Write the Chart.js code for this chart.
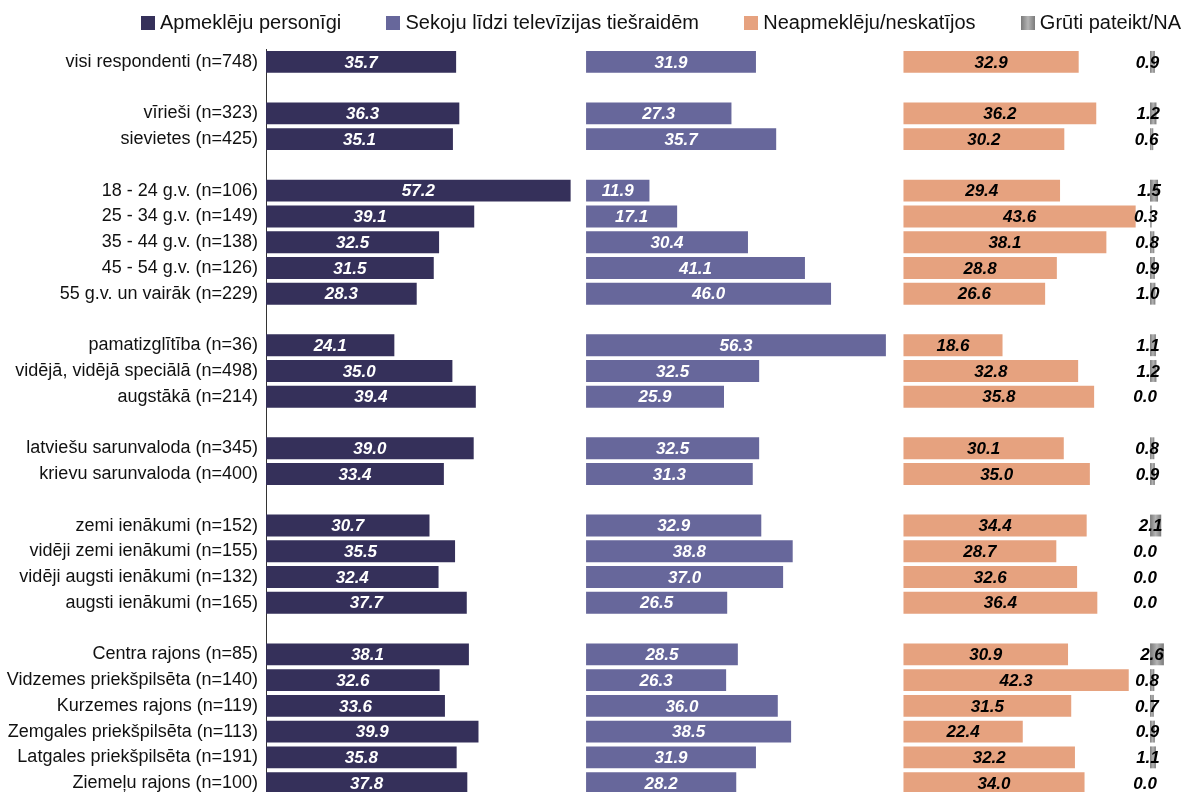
<!DOCTYPE html>
<html>
<head>
<meta charset="utf-8">
<script src="https://cdn.jsdelivr.net/npm/chart.js@4.4.0/dist/chart.umd.min.js"></script>
<style>
  html, body { margin: 0; padding: 0; background: #fff; overflow: hidden; }
  #c { position: absolute; left: 0; top: 0; }
  #legend { position: absolute; left: 141px; width: 1040px; top: 11px; display: flex; justify-content: space-between; }
  .leg { font-family: "Liberation Sans", Arial, sans-serif; font-size: 20px; color: #111; white-space: nowrap; line-height: 22px; }
  .leg i { display: inline-block; width: 14px; height: 14px; margin-right: 5px; vertical-align: -1px; }
</style>
</head>
<body>
<canvas id="c" width="1182" height="797"></canvas>
<div id="legend"></div>
<script>
const categories = ['visi respondenti (n=748)', '', 'vīrieši (n=323)', 'sievietes (n=425)', '',
  '18 - 24 g.v. (n=106)', '25 - 34 g.v. (n=149)', '35 - 44 g.v. (n=138)', '45 - 54 g.v. (n=126)', '55 g.v. un vairāk (n=229)', '',
  'pamatizglītība (n=36)', 'vidējā, vidējā speciālā (n=498)', 'augstākā (n=214)', '',
  'latviešu sarunvaloda (n=345)', 'krievu sarunvaloda (n=400)', '',
  'zemi ienākumi (n=152)', 'vidēji zemi ienākumi (n=155)', 'vidēji augsti ienākumi (n=132)', 'augsti ienākumi (n=165)', '',
  'Centra rajons (n=85)', 'Vidzemes priekšpilsēta (n=140)', 'Kurzemes rajons (n=119)', 'Zemgales priekšpilsēta (n=113)', 'Latgales priekšpilsēta (n=191)', 'Ziemeļu rajons (n=100)'];

const seriesNames = ['Apmeklēju personīgi', 'Sekoju līdzi televīzijas tiešraidēm', 'Neapmeklēju/neskatījos', 'Grūti pateikt/NA'];

const apmekleju = [35.7, null, 36.3, 35.1, null, 57.2, 39.1, 32.5, 31.5, 28.3, null, 24.1, 35.0, 39.4, null, 39.0, 33.4, null, 30.7, 35.5, 32.4, 37.7, null, 38.1, 32.6, 33.6, 39.9, 35.8, 37.8];
const sekoju    = [31.9, null, 27.3, 35.7, null, 11.9, 17.1, 30.4, 41.1, 46.0, null, 56.3, 32.5, 25.9, null, 32.5, 31.3, null, 32.9, 38.8, 37.0, 26.5, null, 28.5, 26.3, 36.0, 38.5, 31.9, 28.2];
const neapmekleju = [32.9, null, 36.2, 30.2, null, 29.4, 43.6, 38.1, 28.8, 26.6, null, 18.6, 32.8, 35.8, null, 30.1, 35.0, null, 34.4, 28.7, 32.6, 36.4, null, 30.9, 42.3, 31.5, 22.4, 32.2, 34.0];
const gruti     = [0.9, null, 1.2, 0.6, null, 1.5, 0.3, 0.8, 0.9, 1.0, null, 1.1, 1.2, 0.0, null, 0.8, 0.9, null, 2.1, 0.0, 0.0, 0.0, null, 2.6, 0.8, 0.7, 0.9, 1.1, 0.0];

// layout constants (panel starts on the shared value axis)
const panelStart = [0, 60.1, 119.7, 166];
const colors = ['#35305a', '#67679b', '#e6a27f', '#8e8e8e'];
const labelColors = ['#ffffff', '#ffffff', '#000000', '#000000'];
const seriesValues = [apmekleju, sekoju, neapmekleju, gruti];

function greyGradient(ctx) {
  const chart = ctx.chart;
  if (!chart.chartArea || !ctx.raw) return colors[3];
  const xs = chart.scales.x;
  const x0 = xs.getPixelForValue(ctx.raw[0]), x1 = xs.getPixelForValue(ctx.raw[1]);
  if (x1 - x0 < 1) return colors[3];
  const g = chart.ctx.createLinearGradient(x0, 0, x1, 0);
  g.addColorStop(0, '#7a7a7a');
  g.addColorStop(0.5, '#b4b4b4');
  g.addColorStop(1, '#7a7a7a');
  return g;
}

const datasets = seriesValues.map((vals, i) => ({
  label: seriesNames[i],
  data: vals.map(v => v === null ? null : [panelStart[i], panelStart[i] + v]),
  backgroundColor: i === 3 ? greyGradient : colors[i],
  borderWidth: 0,
  grouped: false,
  barPercentage: 0.85,
  categoryPercentage: 1.0
}));

const valueLabels = {
  id: 'valueLabels',
  afterDatasetsDraw(chart) {
    const ctx = chart.ctx;
    ctx.save();
    ctx.font = 'italic bold 17px "Liberation Sans", Arial, sans-serif';
    ctx.textAlign = 'center';
    ctx.textBaseline = 'middle';
    chart.data.datasets.forEach((ds, i) => {
      const meta = chart.getDatasetMeta(i);
      meta.data.forEach((el, j) => {
        const v = seriesValues[i][j];
        if (v === null || v === undefined) return;
        let cx = (el.x + el.base) / 2;
        if (i === 3) cx -= 5;
        ctx.fillStyle = labelColors[i];
        ctx.fillText(v.toFixed(1), cx, el.y + 1);
      });
    });
    ctx.restore();
  }
};

new Chart(document.getElementById('c'), {
  type: 'bar',
  data: { labels: categories, datasets },
  options: {
    indexAxis: 'y',
    responsive: false,
    animation: false,
    layout: { padding: { top: 49, bottom: 1, left: 0, right: 0 } },
    plugins: { legend: { display: false }, tooltip: { enabled: false } },
    scales: {
      x: { display: false, min: 0, max: 172 },
      y: {
        afterFit(s) { s.width = 266; s.paddingTop = 0; s.paddingBottom = 0; },
        grid: { display: false, drawTicks: false },
        border: { display: true, color: '#333', width: 1 },
        ticks: {
          autoSkip: false,
          padding: 8,
          color: '#111',
          font: { family: '"Liberation Sans", Arial, sans-serif', size: 18 }
        }
      }
    }
  },
  plugins: [valueLabels]
});

// HTML legend
const legendEl = document.getElementById('legend');
seriesNames.forEach((name, i) => {
  const d = document.createElement('div');
  d.className = 'leg';
  const box = document.createElement('i');
  box.style.background = i === 3 ? 'linear-gradient(to right, #7a7a7a, #b4b4b4, #7a7a7a)' : colors[i];
  d.appendChild(box);
  d.appendChild(document.createTextNode(name));
  legendEl.appendChild(d);
});
</script>
</body>
</html>
